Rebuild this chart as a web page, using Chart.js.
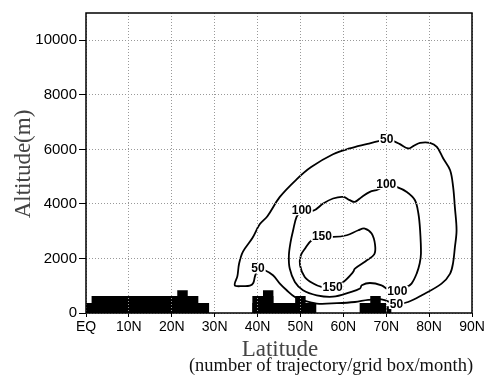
<!DOCTYPE html>
<html>
<head>
<meta charset="utf-8">
<script src="https://cdn.jsdelivr.net/npm/chart.js@4/dist/chart.umd.min.js"></script>
<style>
  body { margin: 0; background: #fff; }
  canvas { display: block; }
</style>
</head>
<body>
<canvas id="chart" width="484" height="378"></canvas>
<script>
// axes
const xTickValues = [0, 10, 20, 30, 40, 50, 60, 70, 80, 90];
const xTickLabels = ['EQ', '10N', '20N', '30N', '40N', '50N', '60N', '70N', '80N', '90N'];
const yTickValues = [0, 2000, 4000, 6000, 8000, 10000];

// contour 50 (trajectories/grid box/month)
const c50Lat = [40.1, 39.4, 39.0, 38.2, 36.5, 34.7, 35.3, 35.7, 36.6, 38.8, 40.5, 42.3, 45.2, 49.1, 52.5, 57.6, 61.5, 65.4, 68.5, 70.1,
  71.6, 73.2, 75.1, 76.3, 77.9, 80.2, 81.8, 83.3, 84.9, 85.6, 86.0, 86.4, 86.0, 85.6, 84.9, 82.9, 78.3, 75.1, 72.4,
  68.9, 65.8, 62.7, 58.5, 53.8, 50.6, 48.7, 46.8, 45.2, 43.6, 41.7, 40.1];
const c50Alt = [1629, 1350, 1100, 1000, 985, 1016, 1350, 1813, 2250, 2750, 3250, 3550, 4257, 4900, 5350, 5820, 6033, 6191, 6312, 6363,
  6312, 6191, 6033, 6117, 6239, 6239, 6092, 5666, 5237, 4624, 3890, 3035, 2400, 1850, 1446, 1078, 650, 404, 330,
  500, 480, 404, 360, 345, 466, 587, 833, 1078, 1383, 1567, 1629];

// contour 100
const c100Lat = [50.3, 53.0, 55.3, 57.6, 60.0, 61.5, 62.7, 64.3, 66.2, 68.1, 70.0, 72.4, 74.8, 76.7, 77.5, 77.9, 78.1, 77.8, 77.1, 75.9, 74.6, 72.6,
  70.5, 68.9, 66.2, 64.3, 63.9, 61.5, 57.6, 53.8, 50.6, 48.7, 47.5, 47.3, 47.7, 48.3, 49.1, 50.3];
const c100Alt = [3769, 3750, 4014, 4198, 4257, 4136, 4074, 4257, 4440, 4528, 4723, 4624, 4440, 4136, 3648, 3035, 2180, 1813, 1446, 1078, 930, 807,
  858, 1016, 1100, 1016, 900, 760, 600, 650, 833, 1138, 1629, 2100, 2600, 3035, 3523, 3769];

// contour 150
const c150Lat = [55.0, 57.6, 60.8, 63.5, 65.0, 66.6, 67.4, 67.2, 65.2, 62.7, 62.3, 60.0, 57.5, 54.9, 53.0, 51.0, 49.9, 50.1, 51.0, 52.6, 55.0];
const c150Alt = [2826, 2789, 2851, 3035, 3097, 2913, 2500, 2150, 1900, 1629, 1505, 1138, 932, 954, 1078, 1321, 1750, 2117, 2350, 2668, 2826];

// contour labels
const labelText = ['50', '50', '50', '100', '100', '100', '150', '150'];
const labelLat = [40.1, 70.1, 72.4, 50.3, 70.0, 72.6, 55.0, 57.5];
const labelAlt = [1629, 6363, 330, 3769, 4723, 807, 2826, 932];

// topography boxes
const blockLat0 = [0, 1.25, 21.25, 38.75, 38.75, 41.25, 48.75, 63.75, 66.25, 70];
const blockLat1 = [28.75, 26.25, 23.75, 53.75, 43.75, 43.75, 51.25, 70, 68.75, 71.25];
const blockTop = [370, 620, 830, 370, 620, 830, 620, 370, 620, 250];

function contour(lat, alt) {
  return {
    data: lat.map((x, i) => ({ x, y: alt[i] })),
    borderColor: '#000',
    borderWidth: 1.8,
    pointRadius: 0,
    tension: 0.35,
    fill: false
  };
}

const datasets = [contour(c50Lat, c50Alt), contour(c100Lat, c100Alt), contour(c150Lat, c150Alt)];
blockTop.forEach((h, i) => {
  datasets.push({
    data: [
      { x: blockLat0[i], y: 0 }, { x: blockLat0[i], y: h },
      { x: blockLat1[i], y: h }, { x: blockLat1[i], y: 0 }
    ],
    borderColor: 'rgba(0,0,0,0)',
    borderWidth: 1,
    backgroundColor: '#000',
    pointRadius: 0,
    tension: 0,
    fill: 'origin'
  });
});

const overlay = {
  id: 'overlay',
  afterDraw(chart) {
    const { ctx, chartArea: a, scales: { x, y } } = chart;
    ctx.save();
    // contour labels
    ctx.font = 'bold 12px "Liberation Sans", Arial, sans-serif';
    ctx.textAlign = 'center';
    ctx.textBaseline = 'middle';
    labelText.forEach((t, i) => {
      const px = x.getPixelForValue(labelLat[i]);
      const py = y.getPixelForValue(labelAlt[i]);
      const w = ctx.measureText(t).width;
      ctx.fillStyle = '#fff';
      ctx.fillRect(px - w / 2 - 1, py - 5, w + 2, 10);
      ctx.fillStyle = '#000';
      ctx.fillText(t, px, py + 0.5);
    });
    // frame
    ctx.strokeStyle = '#000';
    ctx.lineWidth = 1.5;
    ctx.strokeRect(a.left, a.top, a.right - a.left, a.bottom - a.top);
    // titles
    ctx.fillStyle = '#444';
    ctx.font = '23px "Liberation Serif", "Times New Roman", serif';
    ctx.textBaseline = 'alphabetic';
    ctx.fillText('Latitude', 280, 356);
    ctx.save();
    ctx.translate(30, 164);
    ctx.rotate(-Math.PI / 2);
    ctx.fillText('Altitude(m)', 0, 0);
    ctx.restore();
    ctx.fillStyle = '#111';
    ctx.font = '18.5px "Liberation Serif", "Times New Roman", serif';
    ctx.fillText('(number of trajectory/grid box/month)', 331, 371);
    ctx.restore();
  }
};

new Chart(document.getElementById('chart'), {
  type: 'line',
  data: { datasets },
  options: {
    responsive: false,
    animation: false,
    events: [],
    layout: { padding: { top: 13, right: 12, left: 0, bottom: 0 } },
    plugins: { legend: { display: false }, tooltip: { enabled: false } },
    scales: {
      x: {
        type: 'linear',
        min: 0,
        max: 90,
        afterBuildTicks: s => { s.ticks = xTickValues.map(v => ({ value: v })); },
        afterFit: s => { s.height = 65; s.paddingLeft = 0; s.paddingRight = 0; },
        ticks: {
          callback: v => xTickLabels[xTickValues.indexOf(v)],
          color: '#000',
          font: { family: '"Liberation Sans", Arial, sans-serif', size: 14 },
          padding: 2,
          maxRotation: 0,
          autoSkip: false
        },
        grid: { color: '#999', tickColor: '#000', tickLength: 4, lineWidth: 1, z: 1 },
        border: { display: false, dash: [1, 2] }
      },
      y: {
        min: 0,
        max: 11000,
        afterBuildTicks: s => { s.ticks = yTickValues.map(v => ({ value: v })); },
        afterFit: s => { s.width = 86; s.paddingTop = 0; s.paddingBottom = 0; },
        ticks: {
          callback: v => String(v),
          color: '#000',
          font: { family: '"Liberation Sans", Arial, sans-serif', size: 15 },
          padding: 2
        },
        grid: { color: '#999', tickColor: '#000', tickLength: 7, lineWidth: 1, z: 1 },
        border: { display: false, dash: [1, 2] }
      }
    }
  },
  plugins: [overlay]
});
</script>
</body>
</html>
